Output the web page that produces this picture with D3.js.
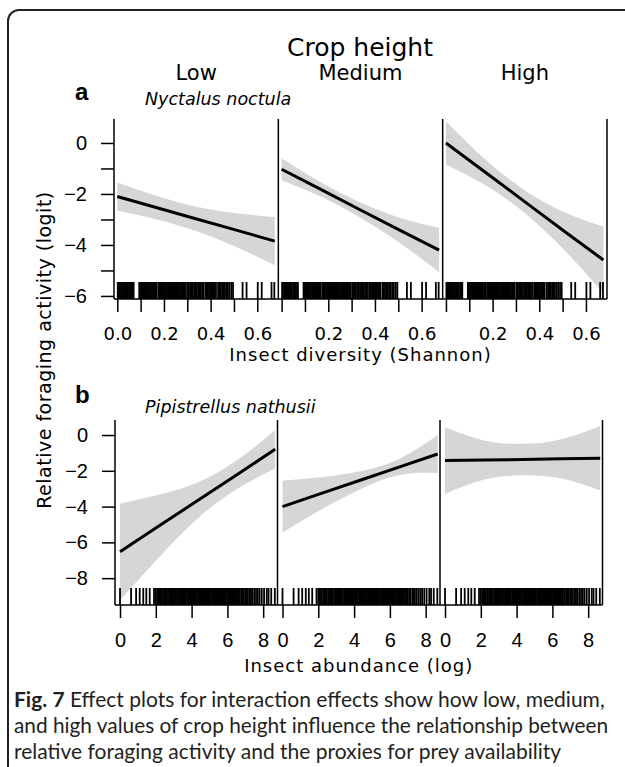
<!DOCTYPE html>
<html>
<head>
<meta charset="utf-8">
<script src="https://cdnjs.cloudflare.com/ajax/libs/d3/7.8.5/d3.min.js"></script>
<style>
  body { margin: 0; background: #fff; }
  .tick text { fill: #000; }
</style>
</head>
<body>
<div id="chart"></div>
<script>

var levels = ["Low", "Medium", "High"];

// ---- a : Nyctalus noctula ~ insect diversity (Shannon)
var divGrid  = [0, 0.17, 0.34, 0.51, 0.675];
var aLowFit  = [-2.1, -2.54, -2.98, -3.42, -3.85];
var aLowUp   = [-1.55, -2.08, -2.5, -2.76, -2.9];
var aLowLo   = [-2.65, -3.0, -3.46, -4.08, -4.8];
var aMedFit  = [-1.03, -1.83, -2.64, -3.44, -4.2];
var aMedUp   = [-0.6, -1.55, -2.34, -2.94, -3.33];
var aMedLo   = [-1.46, -2.11, -2.94, -3.94, -5.07];
var aHighFit = [0, -1.16, -2.32, -3.48, -4.59];
var aHighUp  = [0.85, -0.66, -1.87, -2.73, -3.29];
var aHighLo  = [-0.85, -1.66, -2.77, -4.23, -5.89];

var divTicks  = [0, 0.1, 0.2, 0.3, 0.4, 0.5, 0.6];
var divLabels = [0, 0.2, 0.4, 0.6];
var aYTicks   = [0, -1, -2, -3, -4, -5, -6];
var aYLabels  = [0, -2, -4, -6];

// observed diversity values (rug)
var divRug = [0.002, 0.006, 0.011, 0.016, 0.02, 0.025, 0.03, 0.034, 0.039, 0.044, 0.05, 0.055, 0.061, 0.066, 0.07,
  0.094, 0.098, 0.103, 0.108, 0.112, 0.117, 0.121, 0.126, 0.131, 0.135, 0.14, 0.145, 0.149, 0.154, 0.158, 0.163, 0.168,
  0.176, 0.181, 0.185, 0.19, 0.195, 0.199, 0.204, 0.209, 0.213, 0.218, 0.222, 0.227, 0.232, 0.236, 0.241, 0.246,
  0.25, 0.255, 0.259, 0.264, 0.269, 0.274, 0.279, 0.284, 0.289, 0.294,
  0.302, 0.307, 0.313, 0.318, 0.324, 0.33, 0.336, 0.341, 0.347, 0.352, 0.358, 0.364, 0.37,
  0.378, 0.383, 0.388, 0.393, 0.398, 0.403, 0.408, 0.413, 0.418, 0.423,
  0.432, 0.438, 0.443, 0.449, 0.455, 0.461, 0.467, 0.474, 0.481, 0.489, 0.496,
  0.537, 0.554, 0.602, 0.619, 0.661, 0.673];

// ---- b : Pipistrellus nathusii ~ insect abundance (log)
var abuGrid  = [0, 2.17, 4.34, 6.51, 8.67];
var bLowFit  = [-6.52, -5.09, -3.66, -2.23, -0.8];
var bLowUp   = [-3.82, -3.34, -2.66, -1.43, 0.27];
var bLowLo   = [-9.22, -6.84, -4.66, -3.03, -1.87];
var bMedFit  = [-4.0, -3.26, -2.53, -1.79, -1.06];
var bMedUp   = [-2.55, -2.36, -2.03, -1.34, 0.0];
var bMedLo   = [-5.45, -4.16, -3.03, -2.24, -2.12];
var bHighFit = [-1.43, -1.4, -1.37, -1.33, -1.3];
var bHighUp  = [0.43, -0.3, -0.49, -0.23, 0.5];
var bHighLo  = [-3.29, -2.5, -2.25, -2.43, -3.1];

var abuTicks = [0, 2, 4, 6, 8];
var bYTicks  = [0, -2, -4, -6, -8];

// observed abundance values (rug)
var abuRug = [0.0, 0.62, 0.9, 1.1, 1.3, 1.47, 1.66, 1.9,
  2.0, 2.08, 2.15, 2.2, 2.28, 2.35, 2.4, 2.47, 2.55, 2.6, 2.68, 2.75, 2.8, 2.88, 2.95,
  3.0, 3.07, 3.12, 3.18, 3.25, 3.3, 3.38, 3.45, 3.5, 3.56, 3.62, 3.68, 3.75, 3.8, 3.86, 3.92, 3.98,
  4.05, 4.1, 4.16, 4.22, 4.3, 4.36, 4.42, 4.48, 4.55, 4.6, 4.66, 4.72, 4.78, 4.85, 4.9, 4.96,
  5.02, 5.08, 5.15, 5.2, 5.26, 5.32, 5.38, 5.45, 5.5, 5.56, 5.62, 5.68, 5.75, 5.8, 5.86, 5.92, 5.98,
  6.05, 6.1, 6.16, 6.22, 6.28, 6.35, 6.4, 6.46, 6.52, 6.58, 6.65, 6.7, 6.78, 6.85, 6.92,
  7.0, 7.08, 7.15, 7.25, 7.32, 7.4, 7.5, 7.6, 7.7, 7.8, 7.92, 8.05, 8.2, 8.3, 8.45, 8.65];

var captionLines = [
  ["Fig. 7", " Effect plots for interaction effects show how low, medium,"],
  ["", "and high values of crop height influence the relationship between"],
  ["", "relative foraging activity and the proxies for prey availability"]
];

var width = 625, height = 767;

var svg = d3.select("#chart")
  .append("svg")
    .attr("width", width)
    .attr("height", height);

// frame round the figure
svg.append("rect")
  .attr("x", 8).attr("y", 10)
  .attr("width", 680).attr("height", 820)
  .attr("rx", 11)
  .attr("fill", "none")
  .attr("stroke", "#222")
  .attr("stroke-width", 2);

svg.append("text")
  .attr("x", 360).attr("y", 56)
  .attr("text-anchor", "middle")
  .style("font-family", "DejaVu Sans")
  .style("font-size", "25px")
  .text("Crop height");

var rows = [
  { letter: "a", species: "Nyctalus noctula", top: 119, bottom: 299, left: 114, pw: 164.33,
    xDomain: [-0.0141, 0.6902], yDomain: [-6.12, 0.94], grid: divGrid, rug: divRug,
    fits: [[aLowFit, aLowUp, aLowLo], [aMedFit, aMedUp, aMedLo], [aHighFit, aHighUp, aHighLo]],
    xTicks: divTicks, xLabels: divLabels, xFmt: d3.format(".1f"), xFont: "DejaVu Sans", xSize: 18,
    yTicks: aYTicks, yLabels: aYLabels, title: "Insect diversity (Shannon)", titleY: 361,
    letterY: 100, speciesY: 105 },
  { letter: "b", species: "Pipistrellus nathusii", top: 420, bottom: 605, left: 115, pw: 162.5,
    xDomain: [-0.28, 8.8], yDomain: [-9.5, 0.84], grid: abuGrid, rug: abuRug,
    fits: [[bLowFit, bLowUp, bLowLo], [bMedFit, bMedUp, bMedLo], [bHighFit, bHighUp, bHighLo]],
    xTicks: abuTicks, xLabels: abuTicks, xFmt: d3.format("d"), xFont: "Liberation Sans", xSize: 20,
    yTicks: bYTicks, yLabels: bYTicks, title: "Insect abundance (log)", titleY: 672,
    letterY: 403, speciesY: 413 }
];

rows.forEach(function(row, r) {

  var y = d3.scaleLinear().domain(row.yDomain).range([row.bottom, row.top]);

  // row letter and species name
  svg.append("text")
    .attr("x", 75).attr("y", row.letterY)
    .style("font-family", "Liberation Sans")
    .style("font-weight", "bold")
    .style("font-size", "24px")
    .text(row.letter);

  svg.append("text")
    .attr("x", 145).attr("y", row.speciesY)
    .style("font-family", "DejaVu Sans")
    .style("font-style", "italic")
    .style("font-size", "17.5px")
    .text(row.species);

  row.fits.forEach(function(f, i) {
    var x0 = row.left + i * row.pw;
    var x = d3.scaleLinear().domain(row.xDomain).range([x0, x0 + row.pw]);

    var clipId = "clip" + r + i;
    svg.append("clipPath").attr("id", clipId)
      .append("rect")
        .attr("x", x0).attr("y", row.top)
        .attr("width", row.pw).attr("height", row.bottom - row.top);

    var g = svg.append("g").attr("clip-path", "url(#" + clipId + ")");

    // confidence band
    g.append("path")
      .datum(row.grid)
      .attr("fill", "#d6d6d6")
      .attr("d", d3.area()
        .curve(d3.curveNatural)
        .x(function(d) { return x(d); })
        .y0(function(d, j) { return y(f[2][j]); })
        .y1(function(d, j) { return y(f[1][j]); }));

    // fitted line
    g.append("path")
      .datum(row.grid)
      .attr("fill", "none")
      .attr("stroke", "#000")
      .attr("stroke-width", 3)
      .attr("d", d3.line()
        .x(function(d) { return x(d); })
        .y(function(d, j) { return y(f[0][j]); }));

    // rug
    g.selectAll(".rug")
      .data(row.rug)
      .enter().append("line")
        .attr("x1", function(d) { return x(d); })
        .attr("x2", function(d) { return x(d); })
        .attr("y1", row.bottom)
        .attr("y2", row.bottom - 17)
        .attr("stroke", "#000")
        .attr("stroke-width", 1.8);

    // x axis
    var ax = svg.append("g")
      .attr("transform", "translate(0," + row.bottom + ")")
      .call(d3.axisBottom(x)
        .tickValues(row.xTicks)
        .tickSize(13)
        .tickPadding(15)
        .tickFormat(function(d) {
          if (row.xLabels.indexOf(d) < 0) return "";
          if (r == 0 && i > 0 && d == 0) return "";   // the 0.0 would collide with the panel before
          return row.xFmt(d);
        }));
    ax.select(".domain").remove();
    ax.selectAll("line").attr("stroke", "#000").attr("stroke-width", 1.5);
    ax.selectAll("text")
      .style("font-family", row.xFont)
      .style("font-size", row.xSize + "px");

    // level name on top row only
    if (r == 0) {
      svg.append("text")
        .attr("x", x0 + row.pw / 2).attr("y", 80)
        .attr("text-anchor", "middle")
        .style("font-family", "DejaVu Sans")
        .style("font-size", "21px")
        .text(levels[i]);
    }
  });

  // y axis on the first panel
  var ay = svg.append("g")
    .attr("transform", "translate(" + row.left + ",0)")
    .call(d3.axisLeft(y)
      .tickValues(row.yTicks)
      .tickSize(13)
      .tickPadding(14)
      .tickFormat(function(d) { return row.yLabels.indexOf(d) < 0 ? "" : d3.format("d")(d); }));
  ay.select(".domain").remove();
  ay.selectAll("line").attr("stroke", "#000").attr("stroke-width", 1.5);
  ay.selectAll("text")
    .style("font-family", "Liberation Sans")
    .style("font-size", "20px");

  // panel borders: verticals + bottom line
  var right = row.left + 3 * row.pw;
  d3.range(4).forEach(function(k) {
    svg.append("line")
      .attr("x1", row.left + k * row.pw).attr("x2", row.left + k * row.pw)
      .attr("y1", row.top).attr("y2", row.bottom)
      .attr("stroke", "#000").attr("stroke-width", 1.5);
  });
  svg.append("line")
    .attr("x1", row.left).attr("x2", right)
    .attr("y1", row.bottom).attr("y2", row.bottom)
    .attr("stroke", "#000").attr("stroke-width", 1.5);

  svg.append("text")
    .attr("x", (row.left + right) / 2).attr("y", row.titleY)
    .attr("text-anchor", "middle")
    .style("font-family", "DejaVu Sans")
    .style("font-size", "18px")
    .style("letter-spacing", "1px")
    .text(row.title);
});

// shared y title
svg.append("text")
  .attr("transform", "translate(51,350) rotate(-90)")
  .attr("text-anchor", "middle")
  .style("font-family", "DejaVu Sans")
  .style("font-size", "19px")
  .style("letter-spacing", "0.5px")
  .text("Relative foraging activity (logit)");

// caption, the long middle line is squeezed to the frame width
var capWidths = [null, 594, null];
captionLines.forEach(function(line, k) {
  var t = svg.append("text")
    .attr("x", 14).attr("y", 707 + k * 26)
    .style("font-family", "Lato")
    .style("font-size", "21px")
    .style("fill", "#231f20");
  if (capWidths[k]) t.attr("textLength", capWidths[k]).attr("lengthAdjust", "spacingAndGlyphs");
  if (line[0]) t.append("tspan").style("font-weight", "bold").text(line[0]);
  t.append("tspan").text(line[1]);
});

</script>
</body>
</html>
